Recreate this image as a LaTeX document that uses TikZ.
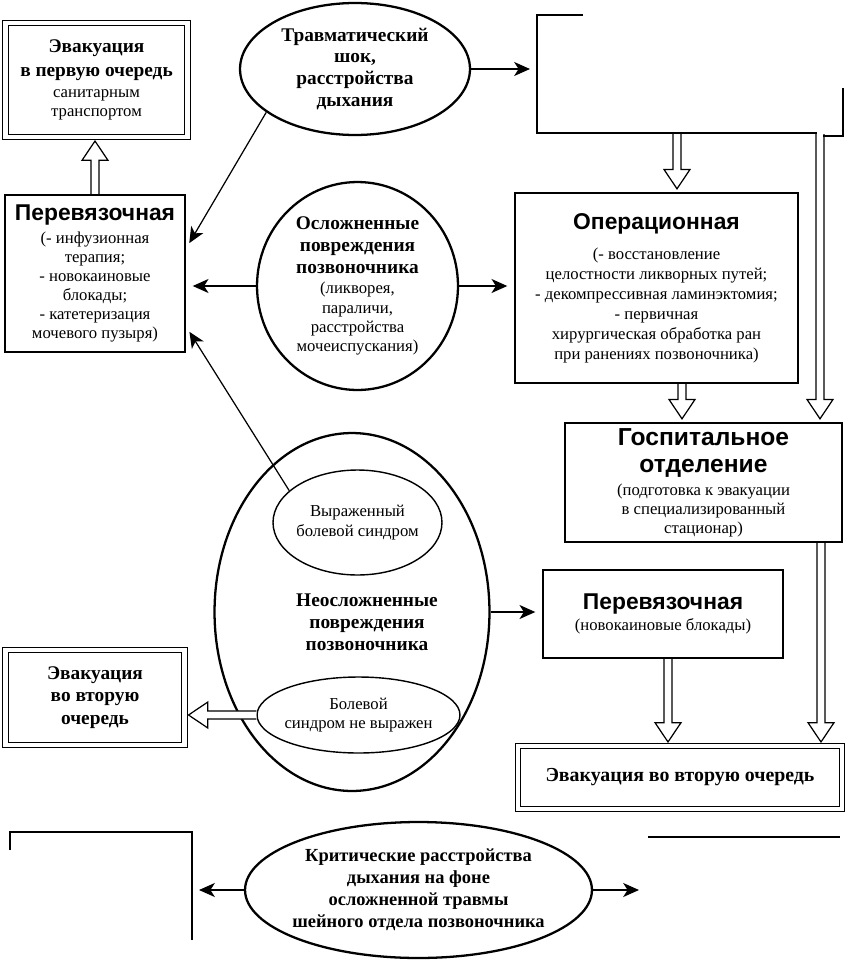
\documentclass[tikz,border=0pt]{standalone}
\usepackage{fontspec}
\setmainfont{Liberation Serif}
\setsansfont{Liberation Sans}
\usetikzlibrary{arrows.meta, shapes.geometric, calc, positioning}

\newcommand{\hdline}[1]{{\bfseries\fontsize{11}{13}\selectfont #1}}
\newcommand{\boxtitle}[1]{{\sffamily\bfseries\fontsize{13}{15}\selectfont #1}}

\tikzset{
  box/.style={draw, line width=0.8pt, inner sep=2pt, align=center,
    font=\fontsize{9.5}{10.8}\selectfont},
  dbox/.style={box, double, double distance=2.4pt, line width=0.6pt},
  oval/.style={ellipse, draw, line width=1.3pt, inner sep=-12pt, align=center,
    font=\bfseries\fontsize{11}{12.5}\selectfont},
  smalloval/.style={ellipse, draw, line width=0.8pt, inner sep=-8pt, align=center,
    font=\fontsize{9.5}{11}\selectfont},
  arr/.style={-{Stealth[length=9pt,width=8pt,inset=2.5pt]}, line width=0.7pt,
    shorten >=4pt},
  hollow/.style={line width=0.7pt, line join=miter, to path={
    let \p1=(\tikztostart), \p2=(\tikztotarget),
        \n1={atan2(\y2-\y1,\x2-\x1)}, \n2={veclen(\x2-\x1,\y2-\y1)}
    in {[shift={(\p1)}, rotate=\n1]
      (0pt,2.3pt) -- ({\n2*1pt-13pt},2.3pt) -- ({\n2*1pt-13pt},7.4pt)
      -- ({\n2*1pt-2pt},0pt) -- ({\n2*1pt-13pt},-7.4pt)
      -- ({\n2*1pt-13pt},-2.3pt) -- (0pt,-2.3pt)}}}
}

\begin{document}
\begin{tikzpicture}[x=0.02cm, y=-0.02cm]
  \useasboundingbox (0,0) rectangle (848,967);

  % left column
  \node[dbox, minimum width=3.64cm, minimum height=2.28cm] (evacA) at (96.5,80)
    {\hdline{Эвакуация}\\[3pt]\hdline{в первую очередь}\\[1pt]санитарным\\транспортом};
  \node[box, minimum width=3.6cm, minimum height=3.14cm] (perevA) at (95,273.5)
    {\boxtitle{Перевязочная}\\[2pt](- инфузионная\\терапия;\\- новокаиновые\\блокады;\\- катетеризация\\мочевого пузыря)};
  \node[dbox, minimum width=3.58cm, minimum height=1.9cm,
    font=\bfseries\fontsize{11}{13}\selectfont] (evacB) at (95,697.5)
    {Эвакуация\\во вторую\\очередь};

  % middle column
  \node[oval, minimum width=4.6cm, minimum height=2.64cm] (shock) at (355,69)
    {Травматический\\шок,\\расстройства\\дыхания};
  \node[oval, minimum width=4.02cm, minimum height=4.16cm] (compl) at (357.5,286)
    {Осложненные\\повреждения\\позвоночника\\[-1pt]
     {\mdseries\fontsize{9.5}{11}\selectfont (ликворея,}\\[-1.5pt]
     {\mdseries\fontsize{9.5}{11}\selectfont параличи,}\\[-1.5pt]
     {\mdseries\fontsize{9.5}{11}\selectfont расстройства}\\[-1.5pt]
     {\mdseries\fontsize{9.5}{11}\selectfont мочеиспускания)}};
  \node[oval, minimum width=5.5cm, minimum height=7.16cm] (uncompl) at (352,612) {};
  \node[font=\bfseries\fontsize{11}{12.5}\selectfont, align=center] (uncompltext) at (367,622)
    {Неосложненные\\повреждения\\позвоночника};
  \node[smalloval, minimum width=3.38cm, minimum height=2.1cm] (painA) at (357.5,522.5)
    {Выраженный\\болевой синдром};
  \node[smalloval, minimum width=4.06cm, minimum height=1.52cm] (painB) at (358.5,715)
    {Болевой\\синдром не выражен};
  \node[oval, minimum width=6.94cm, minimum height=2.72cm,
    font=\bfseries\fontsize{10.5}{12.5}\selectfont] (crit) at (418.5,890)
    {Критические расстройства\\дыхания на фоне\\осложненной травмы\\шейного отдела позвоночника};

  % right column
  \node[box, minimum width=5.66cm, minimum height=3.8cm,
    font=\fontsize{9.5}{11.3}\selectfont] (oper) at (656.5,288)
    {\boxtitle{Операционная}\\[6pt](- восстановление\\целостности ликворных путей;\\- декомпрессивная ламинэктомия;\\- первичная\\хирургическая обработка ран\\при ранениях позвоночника)};
  \node[box, minimum width=5.54cm, minimum height=2.38cm] (gosp) at (703.5,482.5)
    {{\sffamily\bfseries\fontsize{14}{16}\selectfont Госпитальное}\\[5pt]
     {\sffamily\bfseries\fontsize{14}{16}\selectfont отделение}\\[2pt]
     (подготовка к эвакуации\\в специализированный\\стационар)};
  \node[box, minimum width=4.8cm, minimum height=1.76cm] (perevB) at (663,614)
    {\boxtitle{Перевязочная}\\[1pt](новокаиновые блокады)};
  \node[dbox, minimum width=6.48cm, minimum height=1.26cm,
    font=\bfseries\fontsize{11.3}{12.5}\selectfont] (evacC) at (680,777.5)
    {Эвакуация во вторую очередь};

  % boxes left unfinished on the page
  \draw[line width=0.8pt] (583,15) -- (537,15) -- (537,133) -- (817,133);
  \draw[line width=0.8pt] (823,136) -- (843,136) -- (843,88);
  \draw[line width=0.8pt] (10,850) -- (10,832) -- (192,832) -- (192,940);
  \draw[line width=0.8pt] (648,837) -- (840,837);
  \coordinate (trw) at (537,69);
  \coordinate (trb) at (677,133);
  \coordinate (trr) at (820,134);
  \coordinate (critL) at (192,890);
  \coordinate (critR) at (646,890);
  \coordinate (c1) at (682,0);
  \coordinate (c2) at (821,0);
  \coordinate (c3) at (668,0);

  % arrows
  \draw[arr] (shock) -- (trw);
  \draw[arr] (shock.206) -- (perevA.15);
  \draw[arr] (compl.west) -- (compl.west -| perevA.east);
  \draw[arr] (compl.east) -- (compl.east -| oper.west);
  \draw[arr] (painA.155) -- (perevA.-30);
  \draw[arr] (uncompl.east) -- (uncompl.east -| perevB.west);
  \draw[arr] (crit.west) -- (critL);
  \draw[arr] (crit.east) -- (critR);

  \draw[hollow] (perevA.north) to (perevA.north |- evacA.south);
  \draw[hollow] (trb) to (trb |- oper.north);
  \draw[hollow] (trr) to (trr |- gosp.north);
  \draw[hollow] (oper.south -| c1) to (gosp.north -| c1);
  \draw[hollow] (gosp.south -| c2) to (evacC.north -| c2);
  \draw[hollow] (perevB.south -| c3) to (evacC.north -| c3);
  \draw[hollow, fill=white] (painB.west) to (painB.west -| evacB.east);
\end{tikzpicture}
\end{document}
